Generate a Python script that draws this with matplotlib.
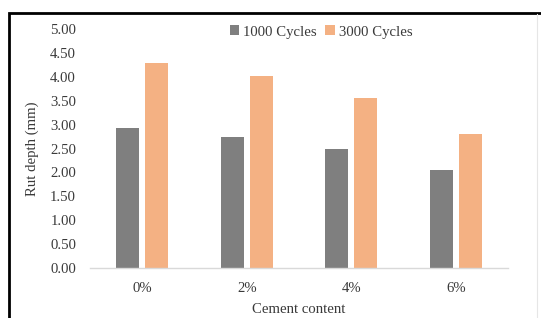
import matplotlib
matplotlib.use("Agg")
import matplotlib.pyplot as plt
import numpy as np
from matplotlib.patches import Rectangle
from matplotlib.lines import Line2D

categories = ["0%", "2%", "4%", "6%"]
cycles_1000 = [2.92, 2.74, 2.50, 2.06]
cycles_3000 = [4.28, 4.02, 3.55, 2.80]
series_names = ["1000 Cycles", "3000 Cycles"]
yticks = [0.0, 0.5, 1.0, 1.5, 2.0, 2.5, 3.0, 3.5, 4.0, 4.5, 5.0]

plt.rcParams['font.family'] = ['Liberation Serif', 'DejaVu Serif']

W, H = 541, 318
fig = plt.figure(figsize=(W / 100, H / 100), dpi=100)
ax = fig.add_axes([90 / W, 1 - 268 / H, (508 - 90) / W, (268 - 29) / H])

x = np.arange(len(categories))
bw = 0.22
off = 0.14
ax.bar(x - off, cycles_1000, bw, color="#7f7f7f", label=series_names[0])
ax.bar(x + off, cycles_3000, bw, color="#f4b183", label=series_names[1])

txtc = "#3a3a3a"
fs = 10.6
ax.set_xlim(-0.5, len(categories) - 0.5)
ax.set_ylim(0, 5.0)
ax.set_yticks(yticks)
ax.set_yticklabels([f"{v:.2f}" for v in yticks], fontsize=fs, color=txtc)
ax.set_xticks(x)
ax.set_xticklabels(categories, fontsize=fs, color=txtc)
ax.tick_params(axis="both", length=0)
ax.tick_params(axis="y", pad=10)
ax.tick_params(axis="x", pad=10)
for s in ["top", "right", "left"]:
    ax.spines[s].set_visible(False)
ax.spines["bottom"].set_color("#d9d9d9")
ax.spines["bottom"].set_linewidth(1.0)

ax.set_ylabel("Rut depth (mm)", fontsize=fs, color=txtc, labelpad=8)
ax.set_xlabel("Cement content", fontsize=fs, color=txtc, labelpad=6)

leg = ax.legend(loc="center", bbox_to_anchor=(321 / W, 1 - 32 / H),
                bbox_transform=fig.transFigure, ncol=2, frameon=False,
                fontsize=fs, handlelength=0.65, handleheight=0.65,
                handletextpad=0.25, columnspacing=0.6)
for t in leg.get_texts():
    t.set_color(txtc)

fig.patches.append(Rectangle((9 / W, -0.1), 1.0, 1 - 13 / H + 0.1,
                             transform=fig.transFigure, fill=False,
                             edgecolor="black", linewidth=2.0))
fig.lines.append(Line2D([537 / W, 537 / W], [0, 1 - 14 / H],
                        transform=fig.transFigure, color="#e6e6e6", linewidth=0.8))

fig.savefig("out.png", dpi=100)
